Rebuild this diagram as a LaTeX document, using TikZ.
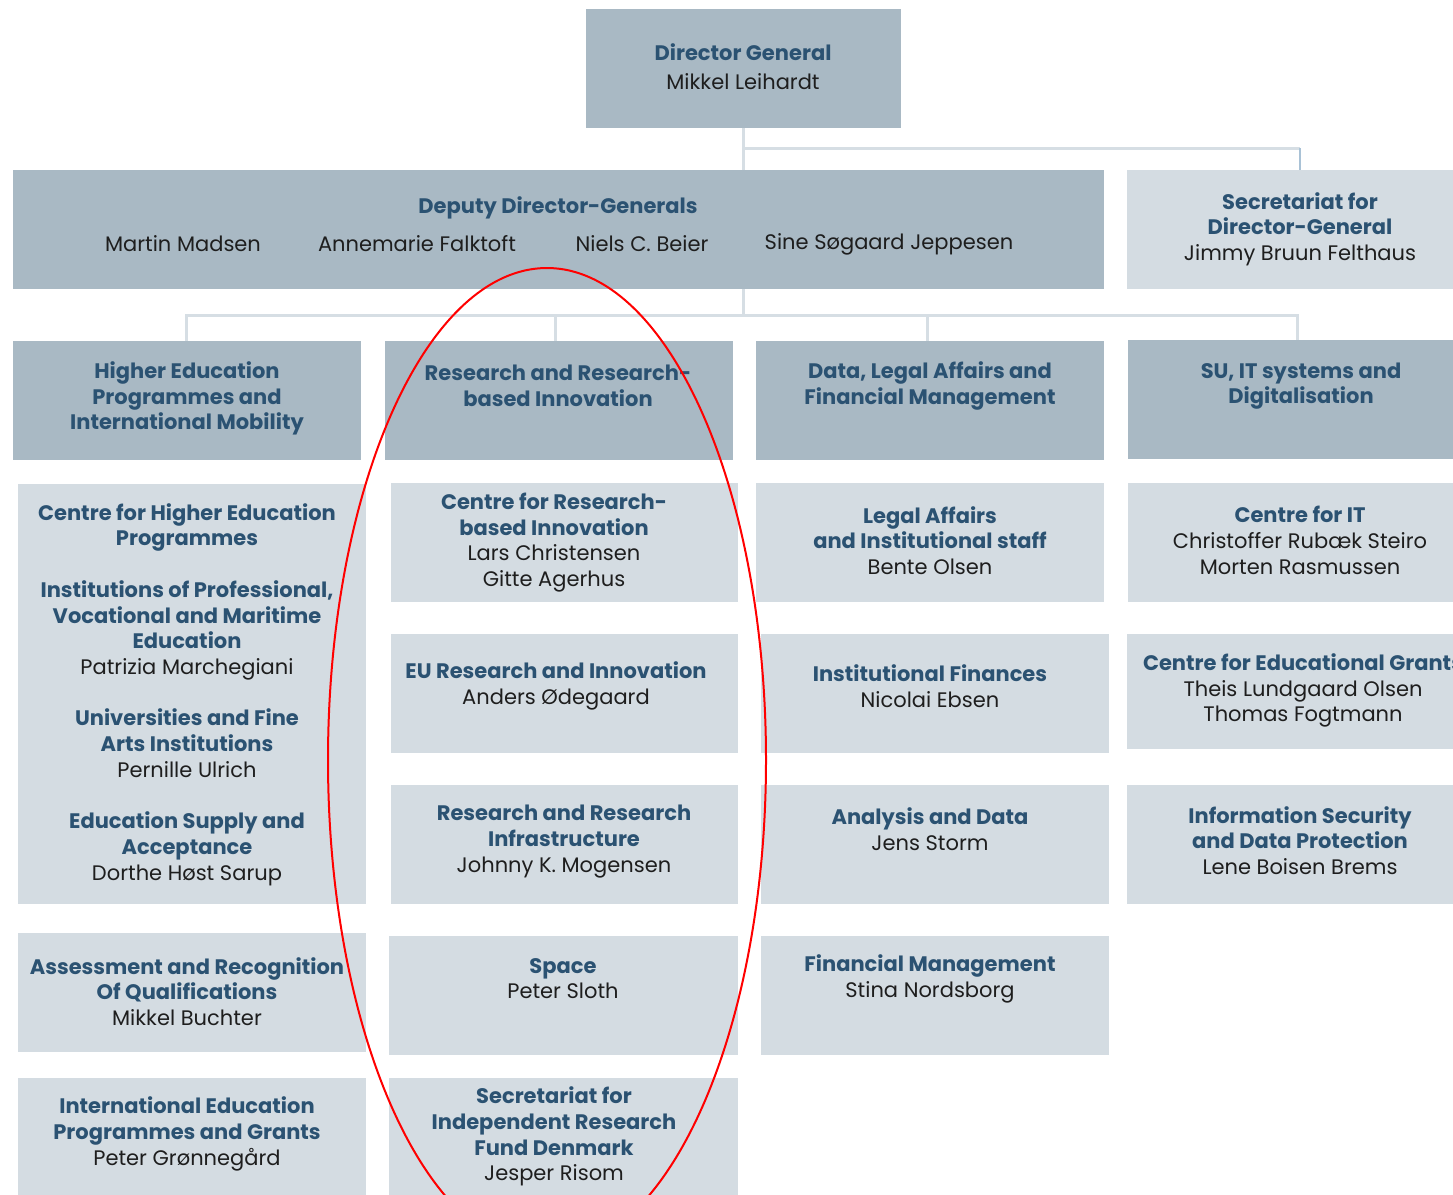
\documentclass[tikz,border=0pt]{standalone}
\usepackage{fontspec}
\setmainfont{Poppins}
\usetikzlibrary{calc}
\definecolor{boxdark}{HTML}{A9B9C4}
\definecolor{boxlight}{HTML}{D4DCE2}
\definecolor{titlec}{HTML}{2B5272}
\definecolor{namec}{HTML}{1E1E1E}
\definecolor{connc}{HTML}{D6DEE4}
\definecolor{connb}{HTML}{A9C2D6}
\newcommand\hd[1]{{\bfseries\color{titlec}#1}}
\newcommand\mkbox[6]{\node[#2, minimum width={(#5-#3)*1pt}, minimum height={(#6-#4)*1pt}] (#1) at ({(#3+#5)/2},{(#4+#6)/2}) {};}
\tikzset{
  dk/.style={fill=boxdark, draw=none, inner sep=0pt, outer sep=0pt},
  lt/.style={fill=boxlight, draw=none, inner sep=0pt, outer sep=0pt},
  txt/.style={align=center, inner sep=0pt, text=namec, font=\fontsize{21}{25.7}\selectfont},
  conn/.style={draw=connc, line width=3pt},
}
\begin{document}
\begin{tikzpicture}[x=1pt, y=-1pt]
\useasboundingbox (0,0) rectangle (1453,1194);
\clip (0,0) rectangle (1453,1194);
\fill[white] (0,0) rectangle (1453,1194);
% boxes
\mkbox{dg}{dk}{586}{9}{901}{128}
\mkbox{dep}{dk}{13}{170}{1104}{289}
\mkbox{sec}{lt}{1127}{170}{1460}{289}
\mkbox{he}{dk}{13}{341}{361}{460}
\mkbox{rr}{dk}{385}{341}{733}{460}
\mkbox{dl}{dk}{756}{341}{1104}{460}
\mkbox{su}{dk}{1128}{340}{1460}{459}
\mkbox{c1a}{lt}{18}{484}{366}{904}
\mkbox{c1b}{lt}{18}{933}{366}{1052}
\mkbox{c1c}{lt}{18}{1078}{366}{1200}
\mkbox{c2a}{lt}{391}{483}{738}{602}
\mkbox{c2b}{lt}{391}{634}{738}{753}
\mkbox{c2c}{lt}{391}{785}{738}{904}
\mkbox{c2d}{lt}{389}{936}{738}{1055}
\mkbox{c2e}{lt}{389}{1078}{738}{1200}
\mkbox{c3a}{lt}{756}{483}{1104}{602}
\mkbox{c3b}{lt}{761}{634}{1109}{753}
\mkbox{c3c}{lt}{761}{785}{1109}{904}
\mkbox{c3d}{lt}{761}{936}{1109}{1055}
\mkbox{c4a}{lt}{1128}{483}{1460}{602}
\mkbox{c4b}{lt}{1127}{634}{1460}{749}
\mkbox{c4c}{lt}{1127}{785}{1460}{904}
% connectors
\coordinate (j1) at (743.5,148);
\coordinate (j2) at (743.5,315);
\coordinate (secin) at (1300,170);
\draw[conn] (dg.south) -- (dg.south |- dep.north);
\draw[conn] (j1) -- (1300,148);
\draw[draw=connb, line width=2pt] (1300,148) -- (secin);
\draw[conn] (dg.south |- dep.south) -- (j2);
\coordinate (h1) at (186,315);
\coordinate (h2) at (555,315);
\coordinate (h3) at (927,315);
\coordinate (h4) at (1297,315);
\draw[conn] (h1 |- he.north) -- (h1) -- (h4) -- (h4 |- su.north);
\draw[conn] (h2) -- (h2 |- rr.north);
\draw[conn] (h3) -- (h3 |- dl.north);
% texts
\node[txt] (tdg) at (743,66.5) {\hd{Director General}\\[3pt]Mikkel Leihardt};
\node[txt] (tdep) at (558,208) {\hd{Deputy Director-Generals}};
\node[txt] (dep1) at (183,244) {Martin Madsen};
\node[txt] (dep2) at (417,244) {Annemarie Falktoft};
\node[txt] (dep3) at (642,244) {Niels C. Beier};
\node[txt] (dep4) at (889,244) {Sine Søgaard Jeppesen};
\node[txt] (tsec) at (1300,229) {\hd{Secretariat for}\\\hd{Director-General}\\Jimmy Bruun Felthaus};
\node[txt] (the) at (187,398.5) {\hd{Higher Education}\\\hd{Programmes and}\\\hd{International Mobility}};
\node[txt] (trr) at (558,386) {\hd{Research and Research-}\\\hd{based Innovation}};
\node[txt] (tdl) at (930,386) {\hd{Data, Legal Affairs and}\\\hd{Financial Management}};
\node[txt] (tsu) at (1301,386) {\hd{SU, IT systems and}\\\hd{Digitalisation}};
\node[txt] (tc1a) at (187,694.5) {\hd{Centre for Higher Education}\\\hd{Programmes}\\[25.7pt]
 \hd{Institutions of Professional,}\\\hd{Vocational and Maritime}\\\hd{Education}\\Patrizia Marchegiani\\[25.7pt]
 \hd{Universities and Fine}\\\hd{Arts Institutions}\\Pernille Ulrich\\[25.7pt]
 \hd{Education Supply and}\\\hd{Acceptance}\\Dorthe Høst Sarup};
\node[txt] (tc1b) at (187,991.5) {\hd{Assessment and Recognition}\\\hd{Of Qualifications}\\Mikkel Buchter};
\node[txt] (tc1c) at (187,1134) {\hd{International Education}\\\hd{Programmes and Grants}\\Peter Grønnegård};
\node[txt] (tc2a) at (554,542.5) {\hd{Centre for Research-}\\\hd{based Innovation}\\Lars Christensen\\Gitte Agerhus};
\node[txt] (tc2b) at (556,686) {\hd{EU Research and Innovation}\\Anders Ødegaard};
\node[txt] (tc2c) at (564,841.5) {\hd{Research and Research}\\\hd{Infrastructure}\\Johnny K. Mogensen};
\node[txt] (tc2d) at (563,978.5) {\hd{Space}\\Peter Sloth};
\node[txt] (tc2e) at (554,1136.5) {\hd{Secretariat for}\\\hd{Independent Research}\\\hd{Fund Denmark}\\Jesper Risom};
\node[txt] (tc3a) at (930,540.5) {\hd{Legal Affairs}\\\hd{and Institutional staff}\\Bente Olsen};
\node[txt] (tc3b) at (930,686) {\hd{Institutional Finances}\\Nicolai Ebsen};
\node[txt] (tc3c) at (930,829) {\hd{Analysis and Data}\\Jens Storm};
\node[txt] (tc3d) at (930,979) {\hd{Financial Management}\\Stina Nordsborg};
\node[txt] (tc4a) at (1300,540.5) {\hd{Centre for IT}\\Christoffer Rubæk Steiro\\Morten Rasmussen};
\node[txt] (tc4b) at (1303,690.5) {\hd{Centre for Educational Grants}\\Theis Lundgaard Olsen\\Thomas Fogtmann};
\node[txt] (tc4c) at (1300,840.5) {\hd{Information Security}\\\hd{and Data Protection}\\Lene Boisen Brems};
% red ellipse
\draw[red, line width=2pt] (547,760) ellipse [x radius=219, y radius=492];
\end{tikzpicture}
\end{document}
